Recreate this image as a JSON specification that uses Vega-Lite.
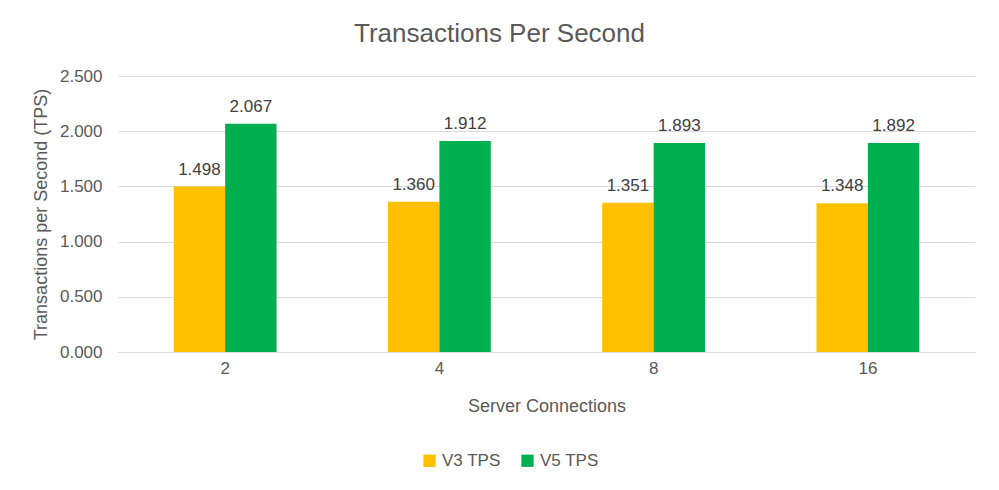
{
  "$schema": "https://vega.github.io/schema/vega-lite/v6.json",
  "autosize": "none",
  "width": 857,
  "height": 276,
  "padding": {"left": 118, "top": 76, "right": 24, "bottom": 138},
  "background": "white",
  "title": {
    "text": "Transactions Per Second",
    "fontSize": 26,
    "font": "Liberation Sans",
    "fontWeight": "normal",
    "color": "#595959",
    "anchor": "middle",
    "dx": -47,
    "offset": 20
  },
  "data": {
    "values": [
      {"conn": "2", "series": "V3 TPS", "tps": 1.498},
      {"conn": "2", "series": "V5 TPS", "tps": 2.067},
      {"conn": "4", "series": "V3 TPS", "tps": 1.360},
      {"conn": "4", "series": "V5 TPS", "tps": 1.912},
      {"conn": "8", "series": "V3 TPS", "tps": 1.351},
      {"conn": "8", "series": "V5 TPS", "tps": 1.893},
      {"conn": "16", "series": "V3 TPS", "tps": 1.348},
      {"conn": "16", "series": "V5 TPS", "tps": 1.892}
    ]
  },
  "encoding": {
    "x": {
      "field": "conn",
      "type": "nominal",
      "sort": ["2", "4", "8", "16"],
      "scale": {"paddingInner": 0.52, "paddingOuter": 0.26},
      "title": "Server Connections",
      "axis": {
        "labelAngle": 0,
        "labelFontSize": 17,
        "labelColor": "#595959",
        "labelFont": "Liberation Sans",
        "labelPadding": 8,
        "titleFontSize": 18,
        "titleFont": "Liberation Sans",
        "titleFontWeight": "normal",
        "titleColor": "#595959",
        "titlePadding": 21,
        "ticks": false,
        "domainColor": "#d9d9d9",
        "grid": false
      }
    },
    "xOffset": {"field": "series", "type": "nominal"},
    "y": {
      "field": "tps",
      "type": "quantitative",
      "scale": {"domain": [0, 2.5]},
      "title": "Transactions per Second (TPS)",
      "axis": {
        "values": [0, 0.5, 1, 1.5, 2, 2.5],
        "format": ".3f",
        "labelFontSize": 17,
        "labelColor": "#595959",
        "labelFont": "Liberation Sans",
        "labelPadding": 16,
        "titleFontSize": 18,
        "titleFont": "Liberation Sans",
        "titleFontWeight": "normal",
        "titleColor": "#595959",
        "titlePadding": 9,
        "ticks": false,
        "domain": false,
        "gridColor": "#d9d9d9"
      }
    }
  },
  "layer": [
    {
      "mark": {"type": "bar"},
      "encoding": {
        "color": {
          "field": "series",
          "type": "nominal",
          "scale": {"domain": ["V3 TPS", "V5 TPS"], "range": ["#FFC000", "#00B050"]},
          "legend": {
            "title": null,
            "orient": "none",
            "direction": "horizontal",
            "legendX": 303,
            "legendY": 376,
            "symbolType": "square",
            "symbolSize": 150,
            "symbolStrokeWidth": 0,
            "labelFontSize": 17,
            "labelFont": "Liberation Sans",
            "labelColor": "#595959",
            "columnPadding": 18,
            "labelOffset": 4
          }
        }
      }
    },
    {
      "mark": {"type": "text", "dy": -17, "fontSize": 17, "font": "Liberation Sans", "color": "#404040"},
      "encoding": {
        "text": {"field": "tps", "type": "quantitative", "format": ".3f"}
      }
    }
  ],
  "config": {"view": {"stroke": null}}
}
